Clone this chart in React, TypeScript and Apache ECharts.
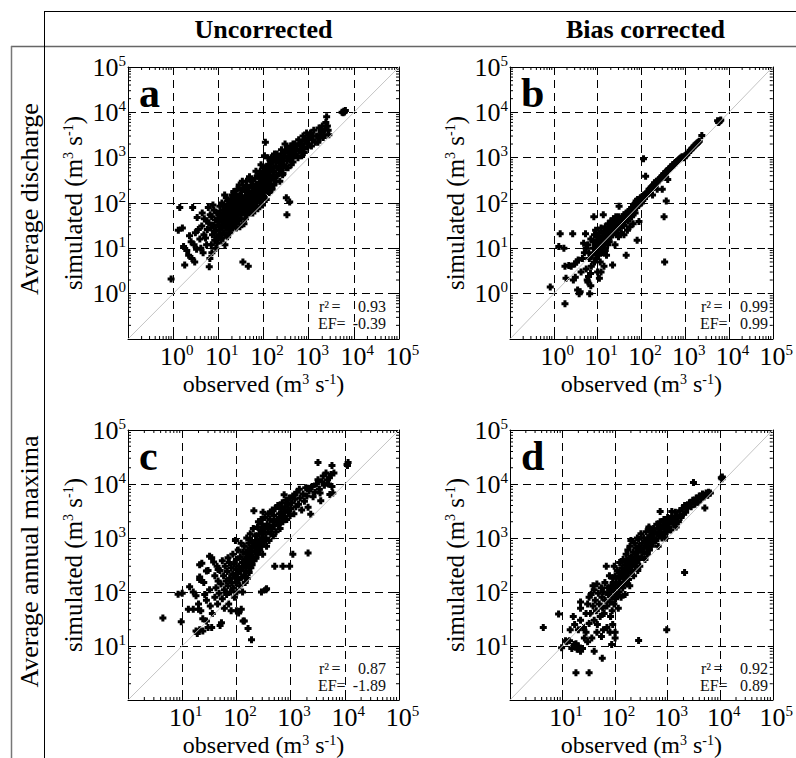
import React, { useEffect, useRef } from 'react';
import * as echarts from 'echarts';

const FONT = 'Liberation Serif';

const headers = ['Uncorrected', 'Bias corrected'];
const rowLabels = ['Average discharge', 'Average annual maxima'];
const panelLetters = ['a', 'b', 'c', 'd'];
const r2Values = ['0.93', '0.99', '0.87', '0.92'];
const efValues = ['-0.39', '0.99', '-1.89', '0.89'];
const axisMin = [0.1, 0.1, 1, 1];
const axisMax = [1e5, 1e5, 1e5, 1e5];
const minorFactors = [2, 3, 4, 5, 6, 7, 8, 9];
const xName = 'observed (m{s|3} s{s|-1})';
const yName = 'simulated (m{s|3} s{s|-1})';

// panel a: uncorrected, average discharge [observed, simulated]
const panelA = [
  [0.9,2.1],[1.4,80],[1.3,25],[1.6,28],[1.8,4.3],[1.7,11],[2.0,9],[2.2,7],[2.6,6],[2.7,80],[2.5,14],[2.3,19],[3.0,5],[3.1,22],[2.9,12],[3.4,48],[3.6,26],[3.9,16],[4.1,10],[4.3,31],[4.6,8],[4.8,20],[4.9,45],[3.3,9.5],[4.4,60],
  [5.2,17],[5.5,12],[5.7,26],[6.0,80],[6.3,3.9],[6.5,6],[6.1,36],[6.6,55],[6.8,28],[7.0,12],[7.1,50],[7.4,20],[7.2,8],[7.8,32],[8.0,70],[8.3,15],[8.6,42],[8.8,10],[9.0,25],[9.2,60],[9.5,18],[9.8,45],[9.9,33],[5.6,40],[7.6,90],[8.2,24],[9.4,13],
  [10.5,20],[10.5,38],[11,25],[11,60],[11.5,15],[11.5,48],[12,30],[12,100],[12.5,40],[12.5,70],[13,22],[13,52],[13,90],[13.5,33],[14,12],[14,20],[14,45],[14,65],[14.5,28],[15,35],[15,75],[15,130],[15.5,50],[16,18],[16,42],[16,60],[16,110],[16.5,30],[17,25],[17,38],[17,65],[17,85],[17.5,50],[18,22],[18,40],[18,90],[18.5,70],[19,30],[19,55],[19,120],[19.5,45],[20,35],[20,70],[20,150],[10.8,85],[12.2,17],[13.8,150],
  [21,28],[21,55],[21,100],[22,40],[22,80],[22,180],[23,60],[23,120],[24,35],[24,50],[24,95],[25,28],[25,70],[25,140],[26,60],[26,200],[26,110],[27,45],[27,85],[27,140],[28,40],[28,65],[28,90],[29,120],[29,250],[30,30],[30,70],[30,150],[31,55],[31,100],[32,45],[32,110],[32,190],[33,80],[33,140],[34,60],[34,300],[35,5],[35,80],[35,250],[36,120],[37,35],[37,95],[38,60],[38,130],[38,200],[40,45],[40,100],[40,180],[41,75],[42,140],[42,300],[43,55],[44,110],[44,220],[45,75],[45,160],[46,4],[46,90],[47,130],[48,110],[48,220],[49,380],[50,90],[50,160],[50,60],
  [52,120],[53,250],[55,75],[55,130],[55,180],[57,300],[58,60],[58,100],[60,90],[60,180],[60,140],[62,230],[63,70],[65,140],[65,350],[66,110],[68,200],[68,500],[70,110],[70,160],[70,260],[72,85],[73,180],[75,75],[75,400],[75,230],[78,130],[80,160],[80,280],[82,110],[84,350],[85,500],[86,200],[88,150],[88,700],[90,130],[90,250],[92,420],[95,90],[95,300],[97,180],[100,250],[100,600],[100,140],[103,380],[105,180],[105,1100],[108,280],[110,2200],[110,350],[112,500],[115,120],[115,220],[118,650],[120,450],[120,300],[125,1000],[125,180],[128,380],[130,300],[130,700],[133,520],[135,170],[138,250],[140,400],[142,850],[145,260],[148,600],[150,550],[150,1000],[150,380],
  [155,200],[160,350],[160,800],[165,480],[170,250],[170,500],[175,1200],[180,1000],[180,380],[185,650],[190,300],[195,850],[200,400],[200,1200],[200,600],[210,1000],[220,800],[220,450],[230,300],[230,650],[240,550],[245,1100],[250,1500],[255,800],[260,900],[265,420],[270,450],[275,1000],[280,700],[290,1300],[300,1100],[300,2000],[310,600],[320,130],[330,55],[330,850],[340,1600],[350,1500],[350,600],[360,1100],[380,105],[380,900],[390,1300],[400,1800],[410,700],[420,1300],[430,1000],[450,2000],[450,800],[470,1500],[480,1600],[490,1100],[500,1200],[500,2000],
  [530,1500],[550,1800],[580,1000],[600,2500],[620,1400],[650,1500],[680,2000],[700,2000],[700,1100],[750,3000],[780,1600],[800,1300],[850,2400],[900,2200],[900,3500],[950,1700],[1000,2000],[1050,2800],[1100,3500],[1150,1800],[1200,2500],[1250,3000],[1300,4000],[1400,2200],[1500,3000],[1600,2200],[1700,4500],[1750,3200],[1800,2700],[1900,3800],[2000,5000],[2100,2800],[2200,3200],[2300,4200],[2400,6000],[2500,8000],[2600,5000],[2700,4000],[2800,3200],
  [5500,10000],[6000,10500],[6500,11000],[5800,9800],[6200,10200]
];

// panel b: bias corrected, average discharge
const panelB = [
  [0.83,1.4],[1.8,0.6],[1.4,21],[2.7,21],[1.3,11],[1.7,10],[1.8,4],[2.5,4],[1.9,2.2],[3.1,2.3],[3.5,1.2],[3.8,1.0],[6.6,1.0],[5.8,2],[6.9,2.8],[5.3,21],[2.2,4.2],[3.0,4.5],[3.3,5],[2.8,2],[4.0,1.1],[4.5,6],[3.6,5.5],[5.0,8],[4.2,3],[5.5,3.5],[6.2,2.4],[6.0,1.8],[7.0,1.5],[4.8,13],[6.0,12],[5.5,10],[6.5,6],[7.2,4],[7.5,7],[7.0,16],[6.3,8],
  [8.2,50],[8,10],[8,14],[8.5,5],[8.5,20],[9,8],[9,12],[9,25],[9.5,6],[9.5,15],[10,10],[10,18],[10,3],[10.5,7],[10.5,13],[11,9],[11,22],[11.5,15],[11.5,5],[12,11],[12,16],[12,28],[12.5,8],[13,13],[13,19],[13.5,55],[13.5,10],[14,15],[14,24],[14.5,12],[15,17],[15,9],[15,30],[16,14],[16,20],[16.5,25],[17,12],[17,18],[17.5,35],[18,16],[18,22],[18.5,14],[19,20],[19,28],[20,18],[20,25],[20,40],[22,4.3],[16,7],[14,4],[11,2.2],[12,3],
  [21,22],[21,30],[22,20],[22,35],[23,26],[23,45],[24,24],[24,30],[25,28],[25,38],[26,22],[26,50],[27,30],[27,35],[28,26],[28,42],[29,32],[30,30],[30,38],[30,50],[31,85],[32,34],[32,28],[33,40],[34,36],[35,32],[35,45],[36,40],[37,50],[38,36],[38,44],[40,40],[40,55],[40,32],[42,48],[43,42],[45,7],[45,50],[45,60],[47,46],[48,55],[50,48],[50,65],[50,40],[52,58],[54,52],[55,70],[56,60],[58,55],[60,62],[60,80],[60,50],[63,70],[65,65],[66,90],[68,75],[70,70],[70,95],[72,60],[75,85],[76,110],[78,80],[80,15],[80,95],[82,120],[85,90],[86,100],[88,39],[90,110],[92,95],[95,130],[98,105],[100,120],[100,100],[30,18],[40,20],[55,30],[35,22],[65,35],[25,12],[48,25],
  [105,140],[108,115],[110,130],[112,950],[115,150],[118,125],[120,140],[125,390],[125,160],[130,150],[135,170],[140,165],[145,160],[150,180],[150,200],[155,190],[160,210],[165,200],[170,220],[175,230],[180,240],[185,220],[190,250],[200,260],[200,280],[210,270],[220,300],[230,280],[240,310],[250,330],[260,320],[270,350],[280,360],[290,380],[300,400],[310,370],[320,420],[330,50],[330,450],[340,5],[350,430],[360,480],[370,110],[380,500],[400,520],[420,560],[440,580],[460,600],[480,620],[500,650],[520,700],[540,680],[560,700],[580,750],[600,780],[640,820],[680,860],[720,900],[760,950],[800,1000],[850,1050],[300,200],[400,330],[180,150],[230,200],
  [950,1000],[1000,1100],[1050,1150],[1100,1200],[1200,1300],[1300,1450],[1400,1550],[1500,1650],[1600,1800],[1700,1900],[1800,2000],[1900,2100],[2000,2200],[2100,2300],[2400,3100],[5500,6500],[5800,6000],[6000,6200],[6300,6500],[6500,6800]
];

// panel c: uncorrected, average annual maxima
const panelC = [
  [4.4,33],[9.6,28],[8.4,91],[10,95],[13.7,125],[13,48],[16,48],[20,48],[18,19],[21,20],[24,19],[19,17],[23,340],[21,320],[21,190],[21,170],[28,29],[30,22],[35,22],[32,460],[16,100],[18,85],[20,60],[22,45],[24,32],[26,90],[25,150],[28,245],[30,250],[32,110],[28,70],[33,55],[36,40],[35,430],[38,360],[40,200],[40,80],[42,120],[44,300],[45,60],[46,260],[46,160],[48,95],[50,24],[53,27],[50,250],[52,140],[55,75],[55,380],[58,200],[60,110],[60,50],[62,300],[65,160],[66,90],[68,240],[70,430],[70,130],[72,60],[74,350],[75,180],[78,100],[80,280],[80,45],[82,150],[85,210],[86,500],[88,120],[90,330],[92,80],[95,180],[96,900],[98,260],
  [100,150],[100,400],[102,100],[100,45],[105,220],[108,600],[110,41],[110,300],[112,170],[115,130],[118,450],[120,250],[122,800],[123,48],[125,190],[128,350],[130,100],[132,550],[133,29],[135,280],[138,200],[140,29],[140,700],[142,400],[145,150],[148,320],[150,500],[152,240],[155,1000],[158,380],[160,180],[162,600],[164,21],[165,300],[168,450],[170,800],[172,230],[175,520],[178,350],[180,1200],[182,650],[190,13],[185,280],[188,420],[190,900],[192,560],[195,320],[210,3200],[200,700],[200,450],[205,1500],[210,380],[215,800],[220,550],[225,1100],[230,420],[235,650],[240,900],[245,1600],[250,500],[255,2000],[260,750],[265,1200],[270,600],[275,900],[280,1400],[285,2200],[290,100],[290,700],[295,1000],[300,1800],[305,500],[310,3000],[315,1200],[320,850],[330,1500],[340,2400],[350,1000],[350,110],[360,700],[360,115],[370,1800],[380,1300],[390,2800],[400,900],[410,1600],[420,2200],[430,1200],[440,3000],[460,3300],[450,1500],[470,2000],[480,1100],[490,2600],[500,1700],[510,300],[520,3500],[540,1300],[560,2200],[580,4000],[600,1800],[620,2800],[640,1500],[660,3500],[680,2400],[720,300],[700,4500],[720,2000],[740,3000],[760,6300],[780,2500],[800,3800],[820,5000],[850,2200],[880,3200],[900,4200],[950,5500],[960,300],[980,2600],[1000,3500],[1100,500],
  [1050,4500],[1100,6000],[1150,2800],[1200,6300],[1200,5200],[1250,3800],[1300,7000],[1400,4200],[1450,8000],[1500,5500],[1600,3300],[1700,6500],[1800,4800],[1900,8500],[2100,525],[2000,6000],[2100,8300],[2100,3700],[2200,7500],[2350,2750],[2500,9000],[2600,5800],[2800,7000],[3000,10000],[3200,25000],[3200,12000],[3500,6800],[3400,8000],[3600,4900],[3800,11000],[4000,14000],[4200,9500],[4500,16000],[4800,12000],[5000,10000],[5300,6400],[5800,22000],[5600,15000],[6300,16000],[5800,9000],[6000,6800],[5200,13000],[11000,23000],[11500,25000],[11200,22000]
];

// panel d: bias corrected, average annual maxima
const panelD = [
  [4.3,22],[8.4,39],[9.6,9.3],[11.4,12.5],[13.6,12.5],[16.9,10.7],[19,8.7],[22,8],[18,3.2],[32,3.2],[57,5.9],[40,8],[86,10.7],[100,14],[100,18],[12,12],[15,9],[18,11],[20,10],[24,9],[26,14],[14,20],[17,25],[16,35],[20,20],[22,30],[25,22],[28,18],[30,12],[32,26],[34,40],[36,14],[38,130],[40,30],[22,65],[22,50],[28,40],[30,60],[32,80],[35,90],[38,55],[40,110],[42,70],[44,45],[45,140],[46,25],[48,95],[50,60],[52,35],[55,120],[56,80],[58,50],[60,100],[62,40],[64,150],[65,70],[68,300],[70,55],[72,120],[75,90],[78,200],[80,65],[82,35],[84,130],[85,110],[88,80],[90,180],[92,150],[95,60],[96,300],[98,100],[60,20],[70,22],[80,18],[90,25],[88,45],[45,18],[55,15],
  [100,120],[100,200],[102,75],[105,150],[108,90],[110,250],[112,130],[115,50],[118,180],[120,100],[122,350],[125,150],[128,220],[130,80],[132,130],[135,280],[138,200],[140,120],[142,400],[145,180],[148,250],[150,150],[152,320],[155,90],[158,220],[160,180],[162,500],[165,260],[168,140],[170,350],[172,200],[175,600],[178,280],[180,170],[182,420],[185,250],[188,320],[190,130],[192,700],[195,380],[198,230],[200,900],[200,300],[205,450],[210,250],[215,350],[220,550],[225,200],[230,400],[235,800],[240,300],[245,500],[250,650],[255,350],[260,450],[265,1000],[270,250],[275,550],[280,950],[285,400],[290,700],[295,300],[300,600],[310,1200],[320,450],[330,800],[340,550],[350,1000],[360,650],[370,400],[380,850],[390,1300],[280,12.6],[400,700],[410,500],[420,1000],[440,1600],[430,800],[440,1500],[450,600],[460,1100],[470,900],[480,1400],[490,700],[500,1200],[520,800],[540,1500],[560,1000],[580,1300],[600,900],[620,1800],[640,1200],[660,700],[680,1500],[700,1100],[720,3100],[720,2000],[740,1300],[780,1000],[800,1700],[820,1200],[850,2200],[880,1500],[960,20],[900,1000],[950,1800],[980,1300],[1000,2400],
  [1050,1600],[1100,2000],[1150,1400],[1200,3100],[1200,2500],[1300,1800],[1350,2200],[1400,3000],[1450,1600],[1500,2600],[1600,2000],[1700,3200],[1800,2400],[1900,3500],[2100,230],[2000,2800],[2100,4000],[2200,3000],[2400,3600],[2600,4500],[2800,3800],[3000,5000],[3100,10700],[3300,4200],[3500,5500],[3800,4600],[4000,6000],[4300,5200],[4600,6500],[5000,5800],[5100,3600],[5400,6800],[5800,6200],[6000,7000],[6500,6800],[10500,13000],[11000,13500],[10800,12500]
];

const panels = [panelA, panelB, panelC, panelD];

const GRIDS = [
  { left: 128, top: 67, width: 271, height: 272 },
  { left: 510, top: 67, width: 271, height: 272 },
  { left: 128, top: 430, width: 271, height: 271 },
  { left: 510, top: 430, width: 271, height: 271 },
];

const PLUS = 'path://M2,0H5V2H7V5H5V7H2V5H0V2H2Z';

const supRich = {
  b: { fontSize: 26, fontFamily: FONT, color: '#000', lineHeight: 28 },
  s: { fontSize: 15, fontFamily: FONT, color: '#000', verticalAlign: 'top', lineHeight: 15 },
};
const nameRich = {
  s: { fontSize: 14, fontFamily: FONT, color: '#000', verticalAlign: 'top', lineHeight: 14 },
};

function tickFmt(v: number) {
  const e = Math.round(Math.log10(v));
  return '{b|10}{s|' + e + '}';
}

function minorTickValues(min: number, max: number) {
  const out: number[][] = [];
  for (let d = min; d < max * 0.99; d *= 10) {
    minorFactors.forEach((f) => out.push([d * f, d * f]));
  }
  return out;
}

export default function App() {
  const ref = useRef<HTMLDivElement>(null);
  useEffect(() => {
    if (!ref.current) return;
    const chart = echarts.init(ref.current, null, { renderer: 'svg' });
    const xAxis: any[] = [];
    const yAxis: any[] = [];
    const series: any[] = [];
    const tickCommon = { show: true, inside: true, length: 5, lineStyle: { color: '#000', width: 1 } };
    const splitCommon = {
      show: true, showMinLine: false, showMaxLine: false,
      lineStyle: { color: '#000', width: 1, type: [8, 5] },
    };
    for (let i = 0; i < 4; i++) {
      const min = axisMin[i];
      const max = axisMax[i];
      const split = i < 2 ? 6 : 5;
      xAxis.push({
        type: 'log', logBase: 10, gridIndex: i, min, max, splitNumber: split, position: 'bottom',
        axisLine: { show: true, onZero: false, lineStyle: { color: '#000', width: 1 } },
        axisTick: tickCommon, minorTick: { show: false }, splitLine: splitCommon,
        axisLabel: { show: true, showMinLabel: false, formatter: tickFmt, rich: supRich, fontFamily: FONT, margin: 3, padding: [0, 0, 0, 7] },
        name: xName, nameLocation: 'middle', nameGap: 33,
        nameTextStyle: { fontFamily: FONT, fontSize: 24, color: '#000', rich: nameRich },
      });
      yAxis.push({
        type: 'log', logBase: 10, gridIndex: i, min, max, splitNumber: split, position: 'left',
        axisLine: { show: true, onZero: false, lineStyle: { color: '#000', width: 1 } },
        axisTick: tickCommon, minorTick: { show: false }, splitLine: splitCommon,
        axisLabel: { show: true, showMinLabel: false, formatter: tickFmt, rich: supRich, fontFamily: FONT, margin: 2 },
        name: yName, nameLocation: 'middle', nameGap: 42, nameRotate: 90,
        nameTextStyle: { fontFamily: FONT, fontSize: 25, color: '#000', rich: nameRich },
      });
    }
    for (let i = 0; i < 4; i++) {
      const min = axisMin[i];
      const max = axisMax[i];
      const split = i < 2 ? 6 : 5;
      xAxis.push({
        type: 'log', logBase: 10, gridIndex: i, min, max, splitNumber: split, position: 'top',
        axisLine: { show: true, onZero: false, lineStyle: { color: '#000', width: 1 } },
        axisTick: tickCommon, minorTick: { show: false }, splitLine: { show: false }, axisLabel: { show: false },
      });
      yAxis.push({
        type: 'log', logBase: 10, gridIndex: i, min, max, splitNumber: split, position: 'right',
        axisLine: { show: true, onZero: false, lineStyle: { color: '#000', width: 1 } },
        axisTick: tickCommon, minorTick: { show: false }, splitLine: { show: false }, axisLabel: { show: false },
      });
    }
    for (let i = 0; i < 4; i++) {
      const min = axisMin[i];
      const max = axisMax[i];
      series.push({
        type: 'custom', xAxisIndex: i, yAxisIndex: i, silent: true, z: 1,
        data: minorTickValues(min, max),
        renderItem: (params: any, api: any) => {
          const v = api.value(0);
          const b = api.coord([v, min]);
          const t = api.coord([v, max]);
          const l = api.coord([min, v]);
          const r = api.coord([max, v]);
          const s = { stroke: '#000', lineWidth: 1 };
          return {
            type: 'group',
            children: [
              { type: 'line', shape: { x1: b[0], y1: b[1], x2: b[0], y2: b[1] - 3 }, style: s },
              { type: 'line', shape: { x1: t[0], y1: t[1], x2: t[0], y2: t[1] + 3 }, style: s },
              { type: 'line', shape: { x1: l[0], y1: l[1], x2: l[0] + 3, y2: l[1] }, style: s },
              { type: 'line', shape: { x1: r[0], y1: r[1], x2: r[0] - 3, y2: r[1] }, style: s },
            ],
          };
        },
      });
      series.push({
        type: 'scatter', xAxisIndex: i, yAxisIndex: i, data: panels[i],
        symbol: PLUS, symbolSize: 7, itemStyle: { color: '#000', opacity: 1 }, silent: true, z: 2,
      });
      series.push({
        type: 'line', xAxisIndex: i, yAxisIndex: i,
        data: [[min, min], [max, max]],
        symbol: 'none', lineStyle: { color: '#c4c4c4', width: 1 }, silent: true, z: 3,
      });
    }

    const graphic: any[] = [
      { type: 'line', shape: { x1: 44, y1: 11.5, x2: 796, y2: 11.5 }, style: { stroke: '#000', lineWidth: 1 } },
      { type: 'line', shape: { x1: 11, y1: 46.5, x2: 796, y2: 46.5 }, style: { stroke: '#666', lineWidth: 1.5 } },
      { type: 'line', shape: { x1: 44.5, y1: 11, x2: 44.5, y2: 758 }, style: { stroke: '#000', lineWidth: 1 } },
      { type: 'line', shape: { x1: 11.5, y1: 46, x2: 11.5, y2: 758 }, style: { stroke: '#777', lineWidth: 1.5 } },
    ];
    headers.forEach((h, j) => {
      const g = GRIDS[j];
      graphic.push({
        type: 'text', x: g.left + g.width / 2, y: 29,
        style: { text: h, fontFamily: FONT, fontSize: 26, fontWeight: 'bold', fill: '#000', align: 'center', verticalAlign: 'middle' },
      });
    });
    rowLabels.forEach((r, j) => {
      const g = GRIDS[j * 2];
      graphic.push({
        type: 'text', x: 29, y: g.top + g.height / 2 - 4, rotation: Math.PI / 2,
        style: { text: r, fontFamily: FONT, fontSize: 26, fill: '#000', align: 'center', verticalAlign: 'middle' },
      });
    });
    const statStyle = (text: string, align: string) => ({
      text, fontFamily: FONT, fontSize: 16, fill: '#111', align, verticalAlign: 'middle',
    });
    GRIDS.forEach((g, i) => {
      graphic.push({
        type: 'text', x: g.left + 11, y: g.top + 26,
        style: { text: panelLetters[i], fontFamily: FONT, fontSize: 42, fontWeight: 'bold', fill: '#000', align: 'left', verticalAlign: 'middle' },
      });
      const right = g.left + g.width - 13;
      const bottom = g.top + g.height;
      const y1 = bottom - 33;
      const y2 = bottom - 16;
      graphic.push({ type: 'text', x: right - 67, y: y1, style: statStyle('r\u00b2', 'left') });
      graphic.push({ type: 'text', x: right - 50, y: y1, style: statStyle('=', 'center') });
      graphic.push({ type: 'text', x: right, y: y1, style: statStyle(r2Values[i], 'right') });
      graphic.push({ type: 'text', x: right - 68, y: y2, style: statStyle('EF', 'left') });
      graphic.push({ type: 'text', x: right - 45, y: y2, style: statStyle('=', 'center') });
      graphic.push({ type: 'text', x: right, y: y2, style: statStyle(efValues[i], 'right') });
    });

    chart.setOption({
      animation: false,
      backgroundColor: '#fff',
      textStyle: { fontFamily: FONT },
      grid: GRIDS.map((g) => ({ ...g, containLabel: false })),
      xAxis, yAxis, series, graphic,
    });
    return () => chart.dispose();
  }, []);
  return <div ref={ref} style={{ position: 'fixed', left: 0, top: 0, width: 796, height: 758 }} />;
}
